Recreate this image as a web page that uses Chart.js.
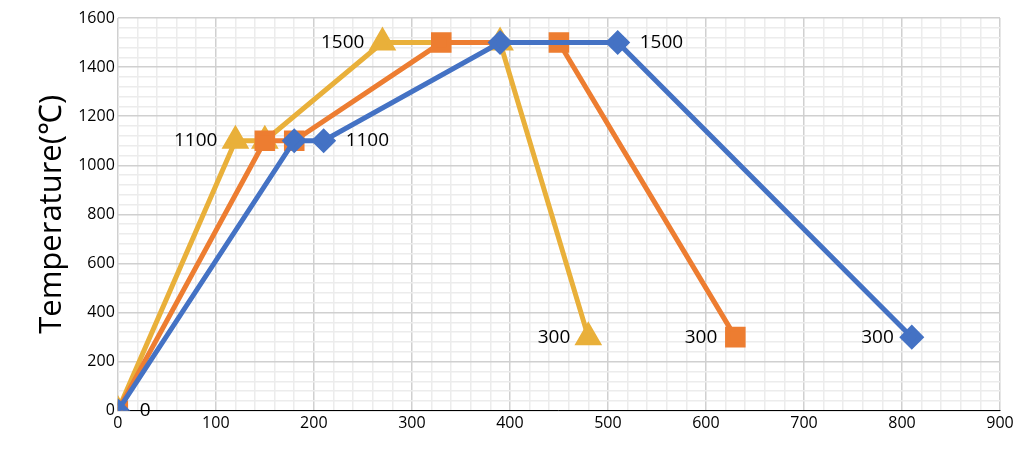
<!DOCTYPE html><html><head><script src="https://cdn.jsdelivr.net/npm/chart.js"></script>
<style>body{margin:0;background:#fff}#w{width:1024px;height:463px}</style></head><body><div id="w"><canvas id="c"></canvas></div><script>
const blueX=[0,180,210,390,510,810], blueY=[0,1100,1100,1500,1500,300];
const orangeX=[0,150,180,330,450,630], orangeY=[0,1100,1100,1500,1500,300];
const yellowX=[0,120,150,270,390,480], yellowY=[0,1100,1100,1500,1500,300];
const labels=[ // [series, pointIndex, text, side]
 ['b',0,'0','r'],['y',1,'1100','l'],['b',2,'1100','r'],['y',3,'1500','l'],['b',4,'1500','r'],
 ['y',5,'300','l'],['o',5,'300','l'],['b',5,'300','l']];
const pts=(xs,ys)=>xs.map((x,i)=>({x,y:ys[i]}));
const lab={id:'lab',afterDatasetsDraw(ch){const c=ch.ctx;c.save();c.font='19px "Open Sans", sans-serif';c.fillStyle='#000';c.textBaseline='middle';
 const m={b:0,o:1,y:2};
 labels.forEach(([s,i,t,side])=>{const el=ch.getDatasetMeta(m[s]).data[i];
  if(side==='r'){c.textAlign='left';c.fillText(t,el.x+22,el.y);}else{c.textAlign='right';c.fillText(t,el.x-18,el.y);}});
 c.restore();}};
const ds=(l,d,col,st,r)=>({label:l,data:d,borderColor:col,backgroundColor:col,borderWidth:5,pointStyle:st,pointRadius:r,pointHoverRadius:r,tension:0});
new Chart(document.getElementById('c'),{type:'line',
 data:{datasets:[ds('b',pts(blueX,blueY),'#4472c4','rectRot',9),ds('o',pts(orangeX,orangeY),'#ed7d31','rect',11),ds('y',pts(yellowX,yellowY),'#e9b03a','triangle',11)]},
 options:{responsive:true,maintainAspectRatio:false,animation:false,layout:{padding:{left:30,right:24,top:18,bottom:27}},
 plugins:{legend:{display:false},tooltip:{enabled:false}},
 scales:{
  x:{type:'linear',min:0,max:900,ticks:{stepSize:20,autoSkip:false,maxRotation:0,color:'#000',font:{size:16,family:'"Open Sans", sans-serif'},callback:v=>v%100===0?v:''},
     grid:{color:c=>c.tick&&c.tick.value%100===0?'#d0d0d0':'#ececec',lineWidth:1.5,drawTicks:false},border:{color:'#000'}},
  y:{min:0,max:1600,ticks:{stepSize:40,autoSkip:false,color:'#000',font:{size:16,family:'"Open Sans", sans-serif'},callback:v=>v%200===0?v:''},
     grid:{color:c=>c.tick&&c.tick.value%200===0?'#d0d0d0':'#ececec',lineWidth:1.5,drawTicks:false},border:{color:'#d0d0d0'},
     title:{display:true,text:'Temperature(℃)',color:'#000',font:{size:31,family:'"Open Sans", sans-serif'}}}}},
 plugins:[lab]});
</script></body></html>
